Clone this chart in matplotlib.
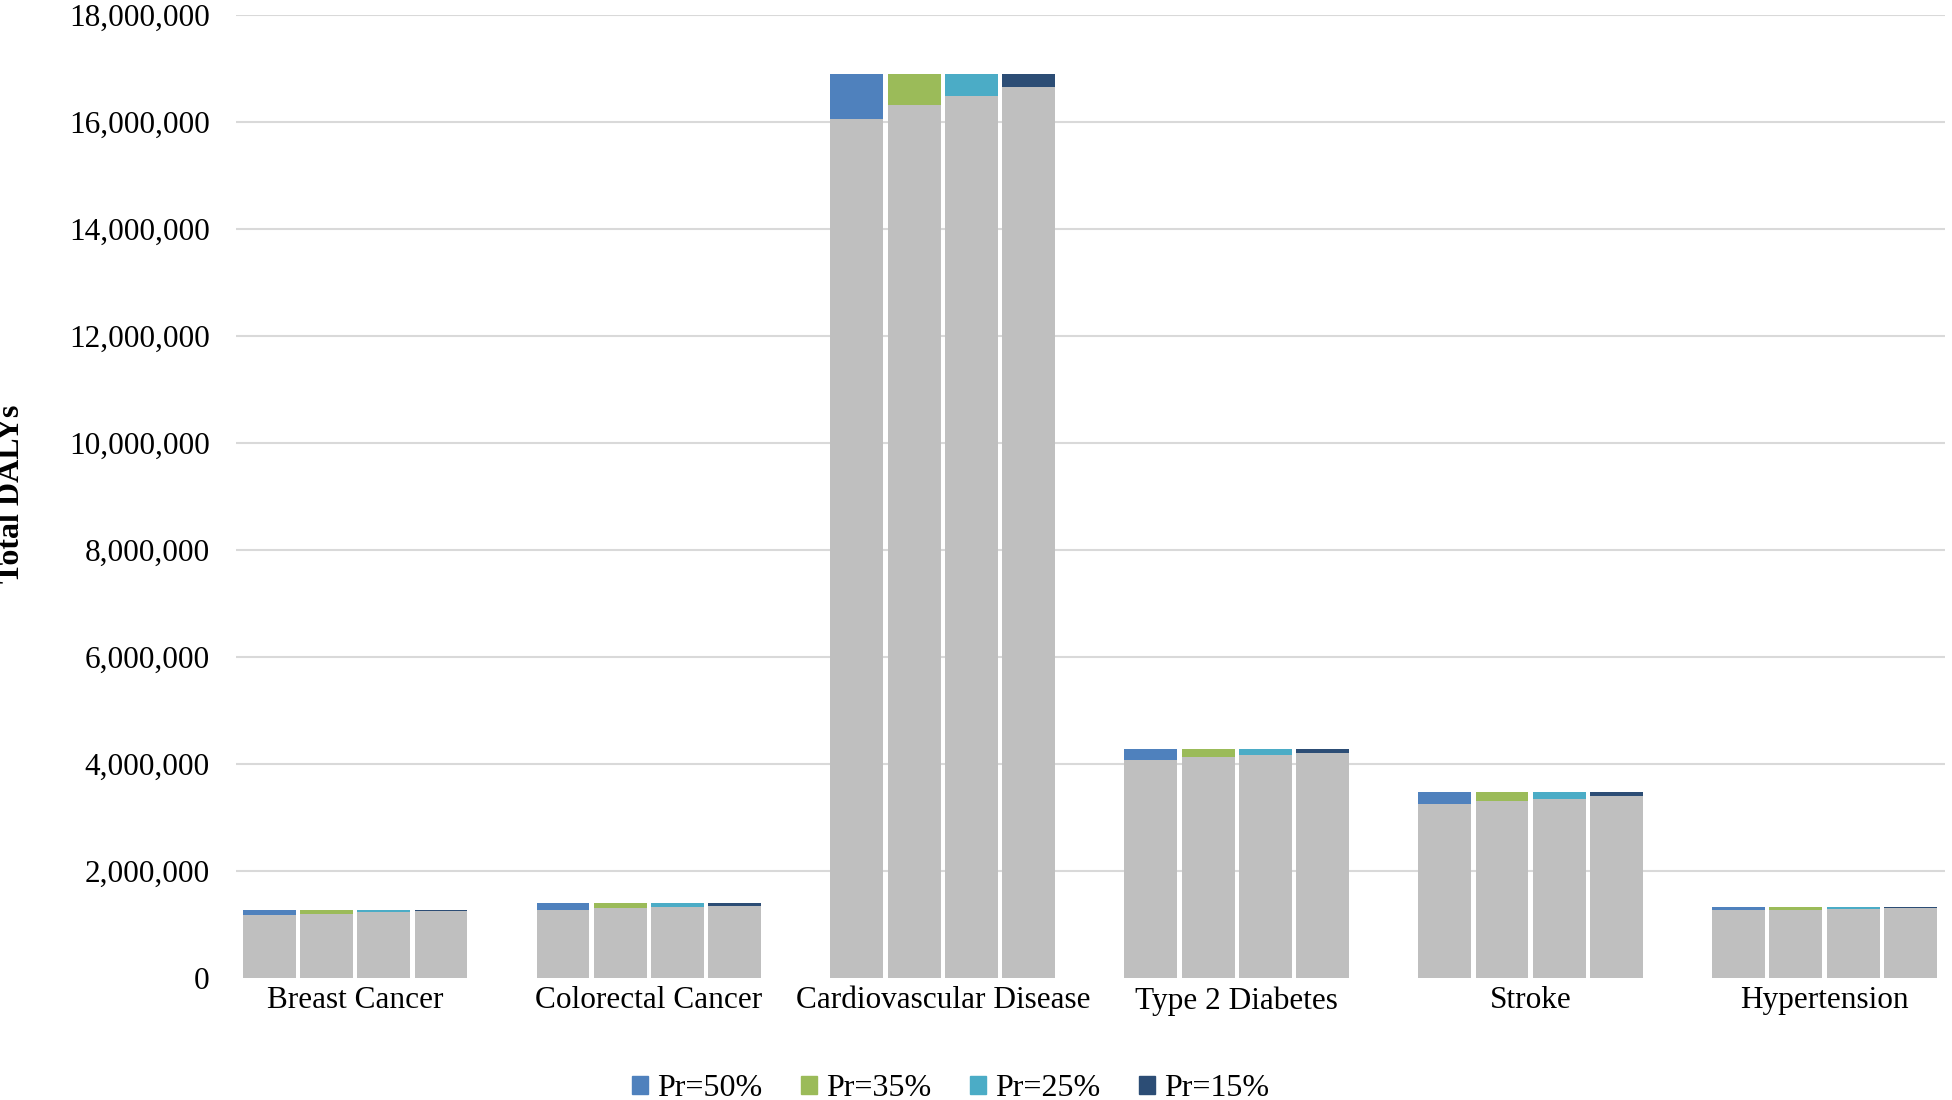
import matplotlib.pyplot as plt
from matplotlib.patches import Patch
from matplotlib.ticker import FuncFormatter
import numpy as np

# Data
diseases = ['Breast Cancer', 'Colorectal Cancer', 'Cardiovascular Disease',
            'Type 2 Diabetes', 'Stroke', 'Hypertension']
scenarios = ['Pr=50%', 'Pr=35%', 'Pr=25%', 'Pr=15%']

# total DALYs (top of each stacked bar), same for every scenario
total_dalys = [1280000, 1400000, 16900000, 4280000, 3480000, 1330000]

# grey base part of each bar, one list per scenario
base_pr50 = [1170000, 1270000, 16050000, 4070000, 3260000, 1270000]
base_pr35 = [1200000, 1310000, 16310000, 4130000, 3310000, 1280000]
base_pr25 = [1230000, 1330000, 16480000, 4170000, 3350000, 1290000]
base_pr15 = [1250000, 1350000, 16650000, 4210000, 3400000, 1300000]

scenario_colors = ['#4F81BD', '#9BBB59', '#4BACC6', '#2C4D75']
grey = '#BFBFBF'

plt.rcParams['font.family'] = ['Liberation Serif', 'DejaVu Serif']

fig = plt.figure(figsize=(19.52, 11), dpi=100)
ax = fig.add_axes([236 / 1952, 1 - 978 / 1100, (1945 - 236) / 1952, (978 - 15) / 1100])

x = np.arange(len(diseases))
step = 0.195
width = 0.18
bases = [base_pr50, base_pr35, base_pr25, base_pr15]
for i, (base, col) in enumerate(zip(bases, scenario_colors)):
    pos = x + (i - 1.5) * step
    base = np.array(base)
    top = np.array(total_dalys) - base
    ax.bar(pos, base, width=width, color=grey, zorder=2)
    ax.bar(pos, top, width=width, bottom=base, color=col, zorder=2)

ax.set_xlim(-0.405, 5.41)
ax.set_ylim(0, 18000000)
ax.set_yticks(np.arange(0, 18000001, 2000000))
ax.yaxis.set_major_formatter(FuncFormatter(lambda v, p: f'{int(v):,}'))
ax.set_xticks(x)
ax.set_xticklabels(diseases)
ax.tick_params(axis='both', length=0, labelsize=22.5)
ax.tick_params(axis='y', pad=19)
ax.tick_params(axis='x', pad=6)

ax.grid(axis='y', color='#D9D9D9', linewidth=1.5, zorder=0)
ax.set_axisbelow(True)
ax.yaxis.get_gridlines()[0].set_visible(False)
for s in ax.spines.values():
    s.set_visible(False)

fig.text(12 / 1952, 1 - 494 / 1100, 'Total DALYs', rotation=90,
         fontsize=23, fontweight='bold', ha='center', va='center')

handles = [Patch(color=c, label=s) for c, s in zip(scenario_colors, scenarios)]
fig.legend(handles=handles, loc='center', bbox_to_anchor=(0.487, 1 - 1089 / 1100),
           ncol=4, frameon=False, fontsize=23, handlelength=0.5, handleheight=0.5,
           handletextpad=0.3, columnspacing=1.2)

fig.savefig('out.png', dpi=100)
